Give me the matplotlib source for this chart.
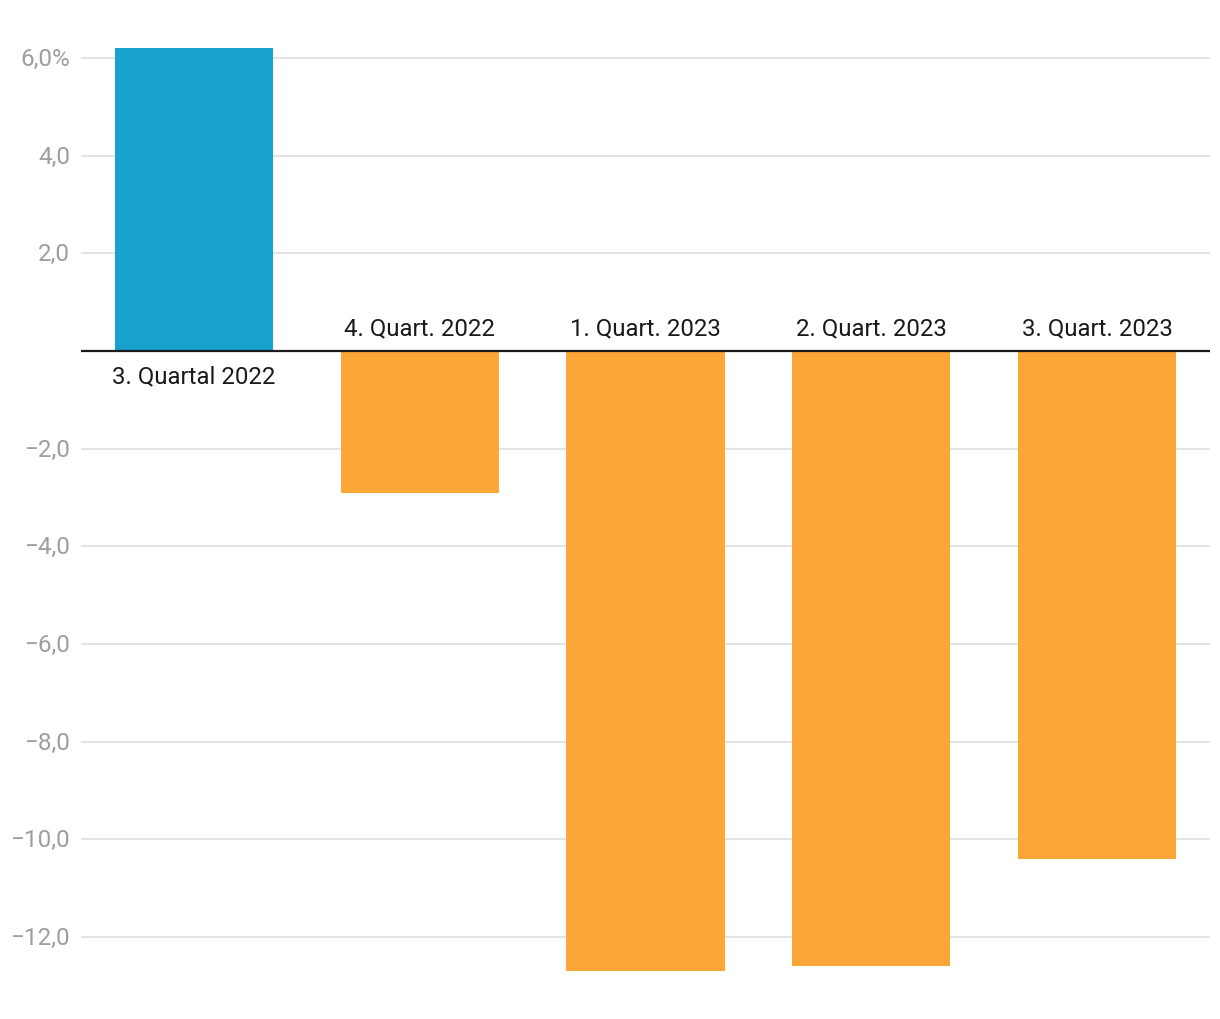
import numpy as np
import matplotlib
matplotlib.use('Agg')
import matplotlib.pyplot as plt
import matplotlib.transforms as mtransforms

categories = ['3. Quartal 2022', '4. Quart. 2022', '1. Quart. 2023', '2. Quart. 2023', '3. Quart. 2023']
values = [6.2, -2.9, -12.7, -12.6, -10.4]
ticks = [-12, -10, -8, -6, -4, -2, 2, 4, 6]
tick_labels = ['\u221212,0', '\u221210,0', '\u22128,0', '\u22126,0', '\u22124,0', '\u22122,0', '2,0', '4,0', '6,0%']

plt.rcParams['font.family'] = ['Roboto', 'DejaVu Sans']

fig = plt.figure(figsize=(12.2, 10.2), dpi=100)
ax = fig.add_axes([81 / 1220, 19 / 1020, 1129 / 1220, 970 / 1020])

x = np.arange(len(values))
colors = ['#19a1cd' if v > 0 else '#fca638' for v in values]
ax.bar(x, values, width=0.7, color=colors, zorder=2)

ax.axhline(0, color='#1a1a1a', linewidth=1.6, zorder=3)
for t in ticks:
    ax.axhline(t, color='#e1e1e1', linewidth=1.3, zorder=1)

for xi, v, lab in zip(x, values, categories):
    if v > 0:
        ax.annotate(lab, (xi, 0), xytext=(0, -9.5), textcoords='offset points',
                    ha='center', va='top', fontsize=17.3, color='#1a1a1a')
    else:
        ax.annotate(lab, (xi, 0), xytext=(0, 8), textcoords='offset points',
                    ha='center', va='bottom', fontsize=17.3, color='#1a1a1a')

ax.set_xlim(-0.5, len(values) - 0.5)
ax.set_ylim(-13.29, 6.57)
ax.set_yticks(ticks)
ax.set_yticklabels(tick_labels, fontsize=17.5, color='#9e9e9e')
ax.tick_params(axis='y', length=0, pad=8)
shift = mtransforms.ScaledTranslation(0, 2 / 100, fig.dpi_scale_trans)
for lbl in ax.get_yticklabels():
    lbl.set_transform(lbl.get_transform() + shift)
ax.set_xticks([])
for s in ax.spines.values():
    s.set_visible(False)

fig.savefig('out.png', dpi=100, facecolor='white')
